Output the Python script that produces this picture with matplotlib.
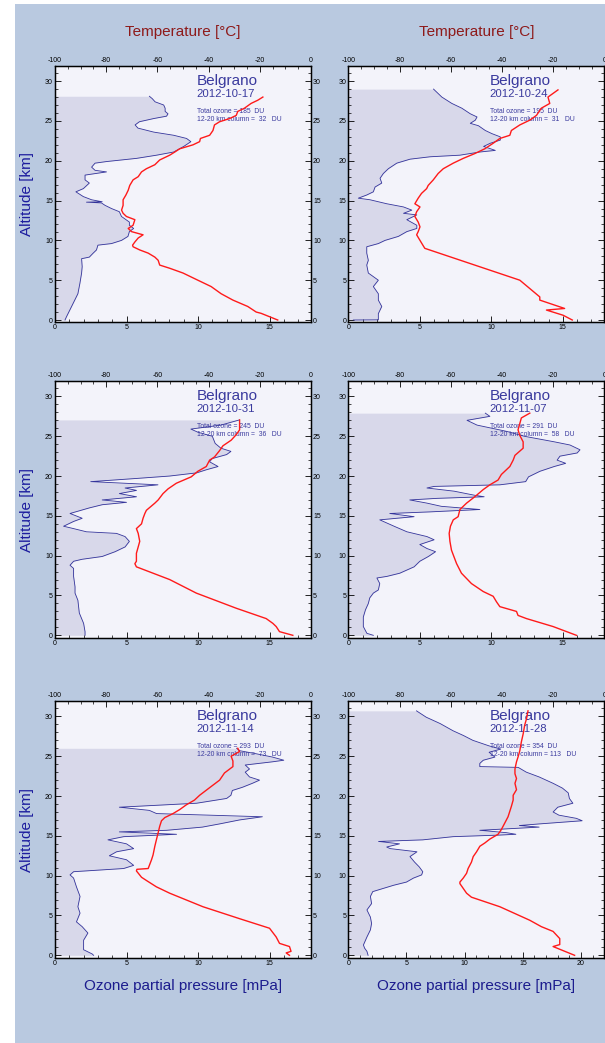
import matplotlib
matplotlib.use("Agg")
import matplotlib.pyplot as plt
from matplotlib.patches import Rectangle
from matplotlib.ticker import MultipleLocator

plt.rcParams['font.family'] = ['Liberation Sans', 'DejaVu Sans']
plt.rcParams['axes.unicode_minus'] = False

# ---------------- data ----------------
dates = ["2012-10-17", "2012-10-24", "2012-10-31", "2012-11-07", "2012-11-14", "2012-11-28"]
total_ozone = [185, 195, 245, 291, 293, 354]
column_12_20 = [32, 31, 36, 58, 73, 113]
ozone_xmax = [17.9, 17.9, 17.9, 17.9, 17.9, 22]

# Panel 1: 2012-10-17
p1_oz_alt = [0, 0.4, 1.7, 3.3, 4.6, 5.9, 6.7, 7.7, 7.9, 8.4, 8.8, 9.4, 9.6, 10.0, 10.5, 11.1, 11.5,
             11.9, 12.3, 13.0, 13.6, 14.0, 14.4, 14.7, 14.8, 14.85, 15.1, 15.5, 16.1, 16.5, 17.2, 17.6,
             18.2, 18.6, 18.8, 19.2, 19.7, 19.9, 20.3, 20.7, 21.1, 21.8, 22.4, 22.8, 23.2, 23.6, 24.1,
             24.5, 24.9, 25.3, 25.6, 25.9, 26.2, 26.6, 27.0, 27.4, 27.8, 28.1]
p1_oz = [0.7, 0.8, 1.16, 1.6, 1.74, 1.86, 1.9, 1.86, 2.4, 2.67, 2.9, 3.0, 3.95, 4.65, 5.1, 5.2, 5.5,
         5.2, 5.2, 4.65, 4.5, 3.95, 3.5, 3.25, 2.2, 3.3, 2.56, 1.98, 1.46, 1.98, 2.4, 2.1,
         2.1, 3.6, 2.8, 2.56, 2.8, 3.6, 5.7, 7.1, 8.3, 9.0, 9.5, 9.2, 8.3, 6.9, 5.8,
         5.6, 5.9, 6.9, 7.8, 7.9, 7.7, 7.7, 7.6, 7.0, 6.8, 6.6]
p1_t_alt = [0, 0.84, 1.0, 1.7, 2.5, 3.3, 4.2, 5.0, 5.9, 6.5, 6.9, 7.5, 7.9, 8.4, 8.8, 9.2, 9.4, 9.8,
            10.3, 10.7, 11.1, 11.5, 11.9, 12.6, 13.0, 13.4, 13.8, 14.4, 15.1, 15.7, 16.3, 16.9, 17.6,
            18.0, 18.6, 19.0, 19.5, 20.1, 20.7, 21.1, 21.5, 22.0, 22.4, 22.8, 23.2, 23.8, 24.5, 24.9,
            25.3, 25.7, 26.2, 26.6, 27.2, 27.6, 28.0]
p1_t = [-13.0, -19.5, -21.4, -24.7, -30.5, -35.1, -39.0, -44.2, -50.0, -55.2, -59.1, -59.7, -61.0,
        -63.6, -66.9, -69.5, -69.7, -68.8, -67.5, -65.6, -70.1, -71.4, -69.5, -68.8, -72.1, -73.4,
        -74.0, -73.4, -73.4, -72.3, -71.4, -70.8, -69.5, -67.5, -66.2, -64.3, -61.0, -59.1, -55.2,
        -53.2, -51.3, -46.1, -43.5, -43.2, -39.6, -38.3, -37.7, -35.7, -31.8, -29.2, -28.6, -26.0,
        -23.4, -20.8, -18.8]

# Panel 2: 2012-10-24
p2_oz_alt = [0, 0.02, 0.8, 1.7, 2.5, 3.3, 4.2, 5.0, 5.9, 6.9, 7.5, 8.4, 9.2, 9.6, 10.0, 10.5, 11.1,
             11.5, 11.9, 12.6, 13.2, 13.4, 13.8, 14.2, 14.6, 15.1, 15.3, 15.7, 16.1, 16.7, 17.2, 17.8,
             18.4, 19.0, 19.7, 20.2, 20.5, 20.7, 21.1, 21.3, 21.8, 22.2, 22.6, 23.0, 23.4, 23.8, 24.4,
             24.7, 25.1, 25.5, 25.9, 26.6, 27.2, 28.0, 29.0]
p2_oz = [0.35, 2.1, 2.1, 2.34, 2.1, 2.1, 1.75, 2.1, 1.4, 1.29, 1.4, 1.29, 1.29, 2.1, 2.57, 3.5, 4.09,
         4.79, 4.79, 4.09, 4.79, 3.86, 4.44, 3.86, 2.69, 1.52, 0.7, 1.29, 1.75, 1.87, 2.34, 2.22,
         2.45, 2.8, 3.39, 4.32, 5.72, 7.8, 9.2, 10.28, 9.46, 9.93, 10.63, 10.63, 10.05, 9.58, 9.1,
         8.53, 8.88, 9.0, 8.53, 7.94, 7.24, 6.54, 5.96]
p2_t_alt = [0, 0.6, 1.25, 1.45, 2.5, 2.9, 5.0, 9.0, 9.2, 10.0, 10.7, 11.1, 11.7, 12.3, 13.0, 13.6,
            14.2, 14.6, 15.3, 15.9, 16.5, 16.9, 17.6, 18.4, 19.0, 19.7, 20.3, 20.9, 21.5, 22.2, 22.8,
            23.2, 23.8, 24.5, 25.1, 25.7, 26.6, 27.2, 28.0, 28.9]
p2_t = [-12.5, -16.1, -22.6, -15.5, -25.2, -25.2, -33.0, -70.1, -70.5, -72.0, -73.3, -72.7, -72.0,
        -72.7, -74.0, -73.3, -72.0, -74.0, -72.7, -71.4, -69.4, -68.8, -66.8, -64.9, -62.9, -59.0,
        -55.1, -50.6, -46.7, -43.4, -40.8, -36.9, -36.3, -33.0, -29.1, -26.5, -24.6, -21.3, -22.0,
        -18.1]

# Panel 3: 2012-10-31
p3_oz_alt = [0, 0.46, 1.5, 2.8, 4.4, 5.3, 6.1, 7.4, 8.4, 8.8, 9.3, 9.55, 9.9, 10.5, 11.1, 11.8, 12.4,
             12.8, 13.0, 13.4, 13.7, 14.3, 14.7, 15.3, 16.0, 16.4, 16.7, 17.0, 17.4, 17.8, 18.2, 18.5,
             18.9, 19.3, 19.7, 20.0, 20.4, 20.8, 21.2, 21.8, 22.2, 22.7, 23.1, 23.5, 24.1, 25.0, 25.5,
             25.9, 26.4, 27.05]
p3_oz = [2.1, 2.1, 2.0, 1.7, 1.6, 1.4, 1.4, 1.3, 1.3, 1.05, 1.3, 1.9, 3.3, 4.2, 4.9, 5.2, 4.9,
         4.3, 2.2, 1.3, 0.6, 1.3, 1.9, 1.05, 2.4, 3.3, 5.0, 3.3, 5.7, 4.5, 5.7, 4.9,
         7.2, 2.5, 5.7, 8.0, 9.9, 10.6, 11.4, 10.8, 11.0, 12.0, 12.3, 11.6, 11.2, 11.0, 10.0,
         9.5, 11.6, 12.9]
p3_t_alt = [0, 0.46, 1.1, 1.5, 2.1, 3.4, 5.3, 7.0, 8.6, 9.0, 9.3, 10.3, 11.1, 11.8, 12.8, 13.4, 14.0,
            14.7, 15.3, 15.7, 16.6, 17.0, 17.8, 18.4, 19.1, 19.9, 20.6, 21.2, 22.0, 22.4, 23.2, 23.8,
            24.5, 25.2, 25.8, 26.4, 27.05]
p3_t = [-7.1, -12.3, -13.6, -14.9, -17.5, -29.2, -44.8, -55.2, -68.2, -68.8, -68.2, -68.2, -67.5,
        -66.9, -67.5, -68.2, -66.2, -65.6, -64.9, -64.3, -61.0, -59.7, -57.8, -55.8, -52.6, -46.8,
        -44.2, -40.9, -39.6, -37.7, -35.7, -34.4, -31.2, -29.2, -27.9, -27.9, -27.9]

# Panel 4: 2012-11-07
p4_oz_alt = [0, 0.25, 1.1, 2.3, 3.2, 4.0, 4.7, 5.3, 5.7, 6.5, 7.2, 7.4, 7.8, 8.6, 9.3, 9.9, 10.5,
             10.9, 11.4, 12.0, 12.4, 13.0, 13.7, 14.1, 14.5, 14.9, 15.3, 15.5, 15.8, 16.2, 16.6, 17.0,
             17.2, 17.4, 17.6, 18.1, 18.5, 18.7, 18.9, 19.3, 19.9, 20.6, 21.2, 21.6, 22.0, 22.5, 22.9,
             23.3, 23.9, 24.3, 25.0, 25.6, 26.4, 27.0, 27.5, 27.9]
p4_oz = [1.75, 1.3, 1.05, 1.05, 1.2, 1.4, 1.5, 1.75, 2.1, 2.2, 2.0, 2.7, 3.6, 4.6, 5.0, 5.6, 6.1,
         5.5, 5.0, 6.0, 5.5, 4.1, 3.2, 2.7, 2.2, 4.6, 2.9, 5.7, 9.2, 6.5, 5.5, 4.3,
         6.2, 9.5, 8.8, 7.4, 5.5, 6.0, 10.6, 12.4, 12.6, 13.4, 14.4, 15.2, 14.6, 14.8, 16.0,
         16.2, 15.5, 14.4, 12.3, 11.1, 9.0, 8.3, 9.9, 9.58]
p4_t_alt = [0, 1.1, 2.1, 2.5, 3.0, 3.6, 4.2, 4.9, 5.5, 6.5, 7.8, 9.0, 10.1, 10.7, 11.8, 12.8, 13.7,
            14.5, 14.9, 15.8, 16.6, 17.4, 18.3, 18.9, 19.5, 20.2, 21.2, 22.0, 22.6, 23.5, 24.3, 25.1,
            25.8, 26.6, 27.3, 27.9]
p4_t = [-10.9, -20.0, -30.4, -33.7, -34.3, -40.8, -42.1, -43.4, -47.3, -51.9, -55.8, -57.7, -59.0,
        -59.7, -60.3, -60.6, -60.1, -59.0, -57.1, -56.4, -53.8, -50.6, -47.3, -44.7, -41.5, -40.2,
        -36.9, -35.6, -34.9, -31.7, -31.7, -33.0, -33.7, -33.0, -32.4, -29.1]

# Panel 5: 2012-11-14
p5_oz_alt = [0, 0.17, 0.7, 1.9, 2.8, 3.6, 4.2, 5.3, 6.1, 7.4, 8.6, 9.7, 10.1, 10.5, 10.9, 11.3, 12.0,
             12.5, 13.0, 13.4, 14.0, 14.5, 14.9, 15.2, 15.5, 15.7, 16.1, 16.5, 17.0, 17.4, 17.8, 18.2,
             18.6, 19.1, 19.7, 20.1, 20.7, 21.1, 21.6, 22.0, 22.4, 23.0, 23.4, 23.9, 24.3, 24.5, 24.9,
             25.3, 25.7, 26.0]
p5_oz = [2.7, 2.6, 2.0, 2.0, 2.3, 1.9, 1.5, 1.75, 1.6, 1.75, 1.5, 1.3, 1.05, 1.3, 4.8, 5.5, 5.0,
         3.8, 4.3, 5.5, 5.0, 3.7, 4.8, 8.5, 4.5, 7.8, 10.3, 11.5, 12.9, 14.5, 7.1, 6.6,
         4.5, 9.9, 12.0, 12.3, 12.4, 13.1, 13.8, 14.3, 13.6, 13.3, 13.6, 13.3, 15.2, 16.0, 15.2,
         14.1, 12.9, 12.7]
p5_t_alt = [0, 0.3, 0.5, 1.1, 1.5, 2.3, 3.4, 4.6, 6.1, 7.8, 8.6, 9.4, 9.8, 10.6, 10.8, 10.9, 12.0,
            12.6, 13.7, 14.5, 15.4, 16.2, 16.9, 17.3, 17.8, 18.3, 18.9, 19.5, 20.1, 21.2, 22.0, 22.9,
            23.7, 24.4, 25.0, 25.6, 26.0]
p5_t = [-8.4, -9.7, -7.8, -8.4, -12.3, -13.6, -16.2, -27.9, -42.2, -55.2, -60.4, -64.3, -66.2,
        -68.2, -68.0, -63.6, -62.3, -61.7, -61.0, -60.4, -59.7, -59.1, -58.4, -57.1, -53.9, -51.3,
        -48.7, -45.5, -43.5, -39.0, -35.7, -33.8, -30.5, -30.5, -31.2, -27.9, -28.6]

# Panel 6: 2012-11-28
p6_oz_alt = [0, 0.5, 0.9, 1.3, 2.3, 3.2, 4.0, 4.8, 5.7, 6.5, 7.4, 8.0, 8.4, 8.8, 9.2, 9.7, 10.1,
             10.5, 11.1, 11.7, 12.4, 13.0, 13.4, 13.6, 14.0, 14.3, 14.5, 14.9, 15.1, 15.2, 15.4, 15.7,
             16.1, 16.3, 16.5, 16.9, 17.2, 17.6, 18.0, 18.6, 19.1, 19.7, 20.4, 21.0, 21.6, 22.4, 23.0,
             23.6, 23.7, 24.1, 24.5, 24.9, 25.5, 25.9, 26.3, 27.0, 27.6, 28.2, 29.1, 29.9, 30.7]
p6_oz = [1.7, 1.6, 1.4, 1.3, 1.6, 1.9, 2.0, 1.9, 1.6, 2.0, 1.9, 2.1, 3.0, 3.9, 5.0, 5.6, 6.3,
         6.4, 6.1, 5.7, 5.3, 5.9, 3.6, 3.3, 4.4, 2.6, 6.4, 9.0, 13.0, 14.4, 13.6, 11.3,
         16.4, 14.7, 16.4, 20.1, 19.6, 18.1, 17.6, 18.0, 19.3, 19.0, 18.9, 18.4, 17.6, 16.4, 15.3,
         14.6, 11.3, 11.3, 11.6, 12.6, 12.1, 13.1, 12.1, 10.7, 9.9, 9.0, 7.9, 6.7, 5.86]
p6_t_alt = [0, 1.1, 1.35, 2.1, 3.0, 3.6, 4.4, 6.1, 7.3, 7.8, 8.4, 9.0, 9.2, 9.7, 10.3, 10.9, 11.7,
            12.4, 13.0, 13.7, 14.1, 14.6, 15.2, 15.8, 16.6, 17.4, 18.1, 18.7, 19.5, 20.1, 20.8, 21.6,
            22.2, 22.8, 23.4, 24.3, 24.9, 25.7, 26.8, 27.8, 28.9, 29.7, 30.7]
p6_t = [-11.6, -20.0, -17.4, -17.4, -20.0, -24.6, -29.1, -40.8, -51.9, -53.8, -55.1, -56.4, -56.4,
        -55.1, -53.8, -53.2, -51.9, -51.2, -49.9, -48.6, -46.7, -44.7, -41.5, -40.2, -38.9, -37.6,
        -36.9, -36.3, -35.6, -35.6, -34.3, -34.9, -34.3, -34.9, -34.9, -34.3, -33.7, -33.0, -32.4,
        -31.7, -31.1, -30.4, -29.8]

oz_alts = [p1_oz_alt, p2_oz_alt, p3_oz_alt, p4_oz_alt, p5_oz_alt, p6_oz_alt]
ozs = [p1_oz, p2_oz, p3_oz, p4_oz, p5_oz, p6_oz]
t_alts = [p1_t_alt, p2_t_alt, p3_t_alt, p4_t_alt, p5_t_alt, p6_t_alt]
temps = [p1_t, p2_t, p3_t, p4_t, p5_t, p6_t]

# ---------------- figure ----------------
W, H = 605, 1043
fig = plt.figure(figsize=(W / 100, H / 100), dpi=100, facecolor='white')
fig.patches.append(Rectangle((15 / W, 0), 1 - 15 / W, 1 - 4 / H, transform=fig.transFigure,
                             facecolor='#B9C9E0', edgecolor='none', zorder=-10))

col_left = [55, 348.3]
ax_w = 256
row_bottom = [322.4, 637.7, 957.7]
ax_h = 256.4

blue_txt = '#3A3A9E'
tick_kw = dict(direction='in', labelsize=5, width=0.6, pad=1.5, colors='black')

for i in range(6):
    r, c = divmod(i, 2)
    x0 = col_left[c] / W
    y0 = 1 - row_bottom[r] / H
    ax = fig.add_axes([x0, y0, ax_w / W, ax_h / H])
    ax.set_facecolor('#F3F3FA')
    ax.fill_betweenx(oz_alts[i], 0, ozs[i], color='#D8D8EA', lw=0, zorder=1)
    ax.plot(ozs[i], oz_alts[i], color='#33339A', lw=0.6, zorder=2)
    ax.set_xlim(0, ozone_xmax[i])
    ax.set_ylim(-0.3, 31.9)
    ax.xaxis.set_major_locator(MultipleLocator(5))
    ax.xaxis.set_minor_locator(MultipleLocator(1))
    ax.yaxis.set_major_locator(MultipleLocator(5))
    ax.yaxis.set_minor_locator(MultipleLocator(1))
    ax.tick_params(which='both', left=True, right=True, labelleft=True,
                   labelright=(c == 0), **tick_kw)
    ax.tick_params(which='major', length=4)
    ax.tick_params(which='minor', length=2, width=0.5)
    for s in ax.spines.values():
        s.set_linewidth(1.0)

    axt = ax.twiny()
    axt.plot(temps[i], t_alts[i], color='#FF1A1A', lw=1.0, zorder=3)
    axt.set_xlim(-100, 0)
    axt.xaxis.set_major_locator(MultipleLocator(20))
    axt.xaxis.set_minor_locator(MultipleLocator(5))
    axt.tick_params(which='both', **tick_kw)
    axt.tick_params(which='major', length=4)
    axt.tick_params(which='minor', length=2, width=0.5)

    ax.text(0.553, 0.941, "Belgrano", transform=ax.transAxes, fontsize=11, color=blue_txt,
            ha='left', va='center', zorder=5)
    ax.text(0.553, 0.891, dates[i], transform=ax.transAxes, fontsize=8.2, color=blue_txt,
            ha='left', va='center', zorder=5)
    ax.text(0.553, 0.824, f"Total ozone = {total_ozone[i]}  DU", transform=ax.transAxes,
            fontsize=4.9, color=blue_txt, ha='left', va='center', zorder=5)
    ax.text(0.553, 0.792, f"12-20 km column = {column_12_20[i]:>3}   DU", transform=ax.transAxes,
            fontsize=4.9, color=blue_txt, ha='left', va='center', zorder=5)

# column titles and axis labels
for c in range(2):
    xc = (col_left[c] + ax_w / 2) / W
    fig.text(xc, 1 - 32 / H, "Temperature [°C]", color='#8E1A1A', fontsize=11,
             ha='center', va='center')
    fig.text(xc, 1 - 986 / H, "Ozone partial pressure [mPa]", color='#1C1C8E', fontsize=11,
             ha='center', va='center')
for r in range(3):
    yc = 1 - (row_bottom[r] - ax_h / 2) / H
    fig.text(27.5 / W, yc, "Altitude [km]", color='#1C1C9E', fontsize=11, rotation=90,
             ha='center', va='center')

fig.savefig("out.png", dpi=100, facecolor=fig.get_facecolor())
